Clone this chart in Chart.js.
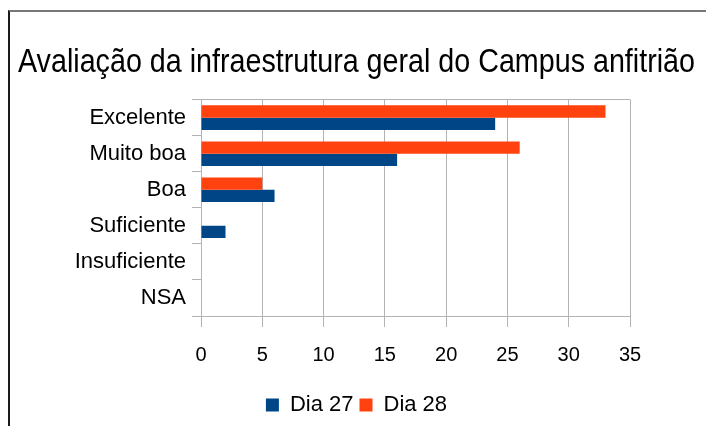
<!DOCTYPE html>
<html>
<head>
<meta charset="utf-8">
<script src="https://cdn.jsdelivr.net/npm/chart.js@4.4.0/dist/chart.umd.min.js"></script>
<style>
  html, body { margin: 0; padding: 0; background: #fff; }
  #wrap { position: relative; width: 706px; height: 426px; }
  #frame { position: absolute; left: 8px; top: 10px; right: 0; bottom: 0;
           border-top: 2px solid #777; border-left: 2px solid #1a1a1a; pointer-events: none; }
</style>
</head>
<body>
<div id="wrap">
  <canvas id="chart" width="706" height="426"></canvas>
  <div id="frame"></div>
</div>
<script>
// Chart data
const categories = ['Excelente', 'Muito boa', 'Boa', 'Suficiente', 'Insuficiente', 'NSA'];
const dia27 = [24, 16, 6, 2, 0, 0];
const dia28 = [33, 26, 5, 0, 0, 0];
const xTicks = [0, 5, 10, 15, 20, 25, 30, 35];

const gridGrey = '#b3b3b3';
const fontFamily = '"Liberation Sans", Arial, sans-serif';

function initChart() {
    const ctx = document.getElementById('chart').getContext('2d');
    new Chart(ctx, {
        type: 'bar',
        data: {
            labels: categories,
            // Dia 28 first so it sits above Dia 27 in each row
            datasets: [{
                label: 'Dia 28',
                data: dia28,
                backgroundColor: '#ff420e',
                borderWidth: 0,
                categoryPercentage: 0.68,
                barPercentage: 1.0
            }, {
                label: 'Dia 27',
                data: dia27,
                backgroundColor: '#004586',
                borderWidth: 0,
                categoryPercentage: 0.68,
                barPercentage: 1.0
            }]
        },
        options: {
            indexAxis: 'y',
            responsive: false,
            animation: false,
            layout: {
                padding: { left: 18, right: 11, top: 0, bottom: 0 }
            },
            scales: {
                x: {
                    min: xTicks[0],
                    max: xTicks[xTicks.length - 1],
                    ticks: {
                        stepSize: 5,
                        color: '#000',
                        padding: 16,
                        font: { family: fontFamily, size: 20 }
                    },
                    grid: {
                        color: gridGrey,
                        tickColor: gridGrey,
                        tickLength: 11,
                        lineWidth: 1
                    },
                    border: { color: gridGrey },
                    // empty band between tick labels and legend
                    afterFit: function(scale) { scale.height += 5; }
                },
                y: {
                    ticks: {
                        color: '#000',
                        padding: 6,
                        font: { family: fontFamily, size: 22 }
                    },
                    grid: {
                        offset: true,
                        color: function(c) {
                            return (c.index === 0 || c.index === categories.length) ? gridGrey : 'rgba(0,0,0,0)';
                        },
                        tickColor: gridGrey,
                        tickLength: 9,
                        lineWidth: 1
                    },
                    border: { color: gridGrey },
                    afterFit: function(scale) { scale.width = 183; }
                },
                // blank spacer on the right so the plot ends where the original does
                spacer: {
                    type: 'category',
                    axis: 'y',
                    position: 'right',
                    ticks: { display: false },
                    grid: { display: false },
                    border: { display: false },
                    afterFit: function(scale) { scale.width = 65; }
                }
            },
            plugins: {
                title: {
                    display: true,
                    text: 'Avaliação da infraestrutura geral do Campus anfitrião',
                    color: '#000',
                    font: { family: fontFamily, size: 33, weight: 'normal' },
                    padding: { top: 43, bottom: 17 }
                },
                legend: {
                    position: 'bottom',
                    reverse: true,
                    labels: {
                        color: '#000',
                        boxWidth: 13,
                        boxHeight: 13,
                        padding: 6,
                        font: { family: fontFamily, size: 22 }
                    }
                },
                tooltip: { enabled: false }
            }
        }
    });
}

document.addEventListener('DOMContentLoaded', initChart);
</script>
</body>
</html>
